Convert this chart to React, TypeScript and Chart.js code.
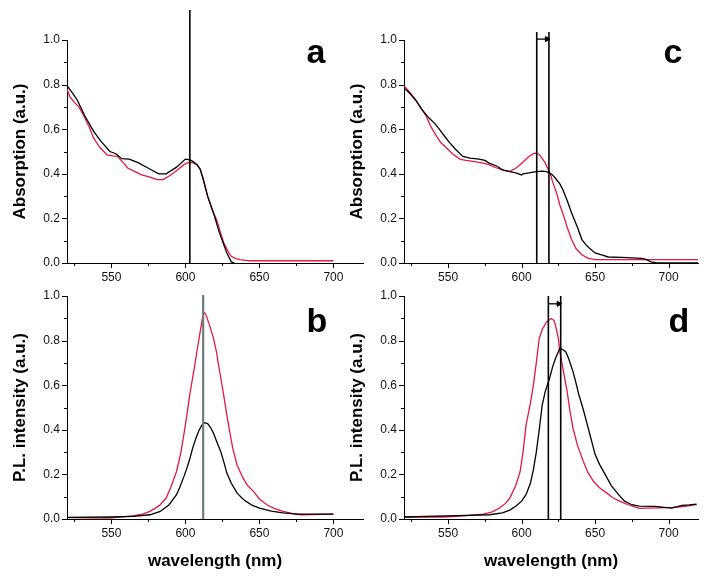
import React, { useEffect, useRef } from "react";
import { Chart, registerables } from "chart.js";

Chart.register(...registerables);

const W = 716;
const H = 578;
const RED = "#e01a42";
const BLACK = "#000000";
const GRAY = "#6c7c7c";

// tick values (minor + major)
const xTickValues = [525, 550, 575, 600, 625, 650, 675, 700];
const xMajor = [550, 600, 650, 700];
const yTickValues = [0, 0.1, 0.2, 0.3, 0.4, 0.5, 0.6, 0.7, 0.8, 0.9, 1.0];
const yMajor = [0, 0.2, 0.4, 0.6, 0.8, 1.0];

// ---- panel a: absorption ----
const aBlackWl = [520, 524, 527, 532, 538, 543, 549, 553, 557, 562, 568, 575, 582, 587, 594, 600, 603, 605, 608, 610, 612, 615, 619, 623, 628, 631, 633];
const aBlackVal = [0.795, 0.76, 0.73, 0.66, 0.59, 0.545, 0.5, 0.49, 0.468, 0.466, 0.45, 0.425, 0.4, 0.4, 0.43, 0.466, 0.462, 0.456, 0.44, 0.42, 0.375, 0.3, 0.224, 0.135, 0.045, 0.005, 0.0];
const aRedWl = [520, 522, 525, 528, 531, 535, 538, 542, 547, 551, 554, 558, 561, 566, 570, 576, 581, 585, 589, 592, 596, 599, 602, 605, 608, 610, 612, 615, 618, 621, 624, 626, 629, 631, 634, 637, 643, 700];
const aRedVal = [0.78, 0.745, 0.72, 0.7, 0.665, 0.61, 0.56, 0.52, 0.485, 0.48, 0.478, 0.45, 0.426, 0.41, 0.396, 0.385, 0.374, 0.374, 0.39, 0.404, 0.425, 0.441, 0.45, 0.45, 0.44, 0.42, 0.38, 0.3, 0.24, 0.195, 0.13, 0.09, 0.05, 0.03, 0.02, 0.015, 0.01, 0.01];
const aMarkers = [603];
const aMarkerTop = 1.135;

// ---- panel b: PL ----
const bBlackWl = [520, 549, 565, 576, 583, 589, 594, 596, 599, 601, 603, 605, 607, 609, 611, 613, 615, 617, 619, 621, 624, 626, 628, 631, 635, 638, 641, 645, 650, 658, 666, 675, 700];
const bBlackVal = [0.007, 0.009, 0.012, 0.019, 0.034, 0.064, 0.109, 0.139, 0.19, 0.228, 0.27, 0.32, 0.36, 0.395, 0.42, 0.432, 0.428, 0.41, 0.385, 0.35, 0.3, 0.255, 0.206, 0.16, 0.116, 0.095, 0.079, 0.062, 0.049, 0.035, 0.027, 0.022, 0.022];
const bRedWl = [520, 549, 565, 571, 576, 580, 583, 587, 590, 594, 597, 599, 601, 603, 606, 608, 610, 611, 612, 613, 614, 616, 619, 621, 622, 624, 626, 628, 630, 632, 635, 639, 642, 646, 650, 655, 660, 666, 672, 678, 685, 700];
const bRedVal = [0.006, 0.004, 0.015, 0.022, 0.034, 0.05, 0.064, 0.094, 0.14, 0.213, 0.3, 0.38, 0.466, 0.56, 0.675, 0.76, 0.84, 0.88, 0.92, 0.925, 0.914, 0.875, 0.81, 0.75, 0.705, 0.63, 0.55, 0.466, 0.39, 0.317, 0.24, 0.183, 0.15, 0.124, 0.09, 0.064, 0.048, 0.034, 0.025, 0.019, 0.02, 0.022];
const bMarkers = [612];
const bMarkerTop = 1.005;

// ---- panel c: absorption ----
const cBlackWl = [520, 524, 528, 532, 537, 541, 544, 548, 551, 555, 560, 565, 571, 575, 578, 583, 587, 592, 596, 600, 601, 605, 610, 614, 617, 619, 621, 623, 626, 628, 631, 634, 638, 641, 644, 646, 650, 655, 659, 668, 682, 685, 688, 692, 720];
const cBlackVal = [0.785, 0.76, 0.73, 0.69, 0.65, 0.625, 0.6, 0.565, 0.54, 0.51, 0.478, 0.47, 0.466, 0.46, 0.448, 0.435, 0.418, 0.41, 0.404, 0.395, 0.4, 0.404, 0.41, 0.412, 0.41, 0.404, 0.395, 0.38, 0.355, 0.33, 0.28, 0.224, 0.16, 0.105, 0.08, 0.067, 0.045, 0.035, 0.027, 0.025, 0.021, 0.015, 0.005, 0.0, 0.0];
const cRedWl = [520, 524, 528, 531, 535, 538, 542, 545, 549, 553, 558, 562, 567, 574, 578, 583, 588, 592, 596, 599, 602, 605, 608, 610, 612, 613, 616, 618, 620, 621, 624, 626, 628, 631, 634, 637, 641, 645, 650, 720];
const cRedVal = [0.795, 0.765, 0.73, 0.7, 0.66, 0.615, 0.57, 0.54, 0.516, 0.49, 0.466, 0.46, 0.456, 0.448, 0.44, 0.426, 0.415, 0.411, 0.425, 0.441, 0.46, 0.478, 0.49, 0.493, 0.487, 0.478, 0.45, 0.42, 0.39, 0.366, 0.31, 0.26, 0.224, 0.16, 0.105, 0.065, 0.037, 0.022, 0.015, 0.015];
const cMarkers = [610.3, 618.6];
const cMarkerTop = 1.036;
const cArrow = [610.3, 617.2];
const cArrowLevel = 1.004;

// ---- panel d: PL ----
const dBlackWl = [520, 556, 578, 587, 592, 596, 600, 603, 606, 608, 610, 612, 614, 616, 619, 621, 623, 625, 626, 628, 630, 632, 635, 637, 639, 642, 644, 646, 648, 650, 653, 657, 661, 666, 670, 675, 680, 691, 702, 706, 709, 714, 719];
const dBlackVal = [0.009, 0.015, 0.019, 0.027, 0.04, 0.057, 0.08, 0.109, 0.16, 0.22, 0.3, 0.4, 0.51, 0.57, 0.63, 0.68, 0.72, 0.75, 0.765, 0.76, 0.75, 0.72, 0.66, 0.61, 0.556, 0.49, 0.44, 0.39, 0.34, 0.29, 0.245, 0.198, 0.15, 0.109, 0.08, 0.064, 0.058, 0.057, 0.049, 0.055, 0.061, 0.063, 0.067];
const dRedWl = [520, 547, 556, 565, 574, 580, 585, 589, 592, 596, 599, 601, 603, 606, 608, 610, 612, 614, 617, 620, 622, 623, 625, 626, 628, 631, 633, 635, 638, 642, 645, 649, 653, 658, 662, 667, 672, 676, 680, 685, 694, 703, 710, 719];
const dRedVal = [0.009, 0.009, 0.012, 0.016, 0.022, 0.032, 0.049, 0.07, 0.094, 0.15, 0.213, 0.3, 0.42, 0.52, 0.6, 0.7, 0.81, 0.85, 0.884, 0.899, 0.89, 0.87, 0.81, 0.75, 0.68, 0.57, 0.48, 0.407, 0.33, 0.258, 0.21, 0.168, 0.14, 0.116, 0.095, 0.079, 0.065, 0.057, 0.048, 0.049, 0.05, 0.052, 0.056, 0.064];
const dMarkers = [618.2, 626.6];
const dMarkerTop = 1.0;
const dArrow = [618.2, 625.2];
const dArrowLevel = 0.965;

type Area = { left: number; top: number; right: number; bottom: number };
interface PanelCfg {
  letter: string;
  letterX: number;
  letterY: number;
  yTitle: string;
  xTitle: boolean;
  area: Area;
  blackWl: number[];
  blackVal: number[];
  redWl: number[];
  redVal: number[];
  markers: number[];
  markerTop: number;
  markerColor: string;
  markerWidth: number;
  arrow?: number[];
  arrowLevel?: number;
}

const PANELS: PanelCfg[] = [
  {
    letter: "a", letterX: 316, letterY: 63, yTitle: "Absorption (a.u.)", xTitle: false,
    area: { left: 67, top: 40, right: 363, bottom: 263 },
    blackWl: aBlackWl, blackVal: aBlackVal, redWl: aRedWl, redVal: aRedVal,
    markers: aMarkers, markerTop: aMarkerTop, markerColor: BLACK, markerWidth: 1.6,
  },
  {
    letter: "b", letterX: 317, letterY: 332, yTitle: "P.L. intensity (a.u.)", xTitle: true,
    area: { left: 67, top: 296, right: 363, bottom: 519 },
    blackWl: bBlackWl, blackVal: bBlackVal, redWl: bRedWl, redVal: bRedVal,
    markers: bMarkers, markerTop: bMarkerTop, markerColor: GRAY, markerWidth: 2.2,
  },
  {
    letter: "c", letterX: 673, letterY: 63, yTitle: "Absorption (a.u.)", xTitle: false,
    area: { left: 404, top: 40, right: 698, bottom: 263 },
    blackWl: cBlackWl, blackVal: cBlackVal, redWl: cRedWl, redVal: cRedVal,
    markers: cMarkers, markerTop: cMarkerTop, markerColor: BLACK, markerWidth: 1.6,
    arrow: cArrow, arrowLevel: cArrowLevel,
  },
  {
    letter: "d", letterX: 679, letterY: 332, yTitle: "P.L. intensity (a.u.)", xTitle: true,
    area: { left: 404, top: 296, right: 698, bottom: 519 },
    blackWl: dBlackWl, blackVal: dBlackVal, redWl: dRedWl, redVal: dRedVal,
    markers: dMarkers, markerTop: dMarkerTop, markerColor: BLACK, markerWidth: 1.6,
    arrow: dArrow, arrowLevel: dArrowLevel,
  },
];

const FONT = '"Liberation Sans", Arial, sans-serif';
const Y_AXIS_W = 60;
const TOP_X_AXIS_H = 27;

const decorPlugin = {
  id: "decor",
  afterDraw(chart: any, _args: any, opts: any) {
    const ctx = chart.ctx;
    const xs = chart.scales.x;
    const ys = chart.scales.y;
    ctx.save();
    ctx.strokeStyle = "#000";
    ctx.lineWidth = 1;
    xs.ticks.forEach((t: any) => {
      const px = Math.round(xs.getPixelForValue(t.value)) + 0.5;
      const len = xMajor.includes(t.value) ? 5 : 3;
      ctx.beginPath();
      ctx.moveTo(px, ys.bottom);
      ctx.lineTo(px, ys.bottom + len);
      ctx.stroke();
    });
    ys.ticks.forEach((t: any) => {
      const py = Math.round(ys.getPixelForValue(t.value)) + 0.5;
      const major = yMajor.some((m) => Math.abs(m - t.value) < 1e-6);
      const len = major ? 5 : 3;
      ctx.beginPath();
      ctx.moveTo(xs.left, py);
      ctx.lineTo(xs.left - len, py);
      ctx.stroke();
    });
    ctx.fillStyle = "#000";
    ctx.font = `bold 34px ${FONT}`;
    ctx.textAlign = "center";
    ctx.textBaseline = "alphabetic";
    ctx.fillText(opts.letter, opts.x, opts.y);
    ctx.restore();
  },
};

function buildConfig(p: PanelCfg): any {
  const toPts = (wl: number[], v: number[]) => wl.map((w, i) => ({ x: w, y: v[i] }));
  const datasets: any[] = [];
  p.markers.forEach((m) => {
    datasets.push({
      data: [{ x: m, y: 0 }, { x: m, y: p.markerTop }],
      borderColor: p.markerColor,
      borderWidth: p.markerWidth,
      pointRadius: 0,
      clip: false,
      order: 0,
    });
  });
  if (p.arrow) {
    datasets.push({
      data: [{ x: p.arrow[0], y: p.arrowLevel }, { x: p.arrow[1], y: p.arrowLevel }],
      borderColor: BLACK,
      borderWidth: 1.3,
      pointRadius: [0, 3],
      pointStyle: "triangle",
      pointRotation: 90,
      pointBackgroundColor: BLACK,
      pointBorderColor: BLACK,
      pointBorderWidth: 1,
      clip: false,
      order: 0,
    });
  }
  datasets.push({
    data: toPts(p.blackWl, p.blackVal),
    borderColor: BLACK,
    borderWidth: 1.3,
    pointRadius: 0,
    tension: 0,
    order: 1,
  });
  datasets.push({
    data: toPts(p.redWl, p.redVal),
    borderColor: RED,
    borderWidth: 1.3,
    pointRadius: 0,
    tension: 0,
    order: 2,
  });

  const a = p.area;
  const xAxisH = p.xTitle ? H - a.bottom : TOP_X_AXIS_H;
  const padBottom = H - a.bottom - xAxisH;

  return {
    type: "line",
    data: { datasets },
    plugins: [decorPlugin],
    options: {
      animation: false,
      responsive: false,
      maintainAspectRatio: false,
      events: [],
      parsing: true,
      layout: {
        padding: { left: a.left - Y_AXIS_W, top: a.top, right: W - a.right, bottom: padBottom },
      },
      plugins: {
        legend: { display: false },
        tooltip: { enabled: false },
        decor: { letter: p.letter, x: p.letterX, y: p.letterY },
      },
      scales: {
        x: {
          type: "linear",
          min: 520,
          max: 720,
          afterBuildTicks: (s: any) => {
            s.ticks = xTickValues.map((v) => ({ value: v }));
          },
          afterFit: (s: any) => {
            s.height = xAxisH;
          },
          grid: { display: true, drawOnChartArea: false, drawTicks: false },
          border: { display: true, color: "#000", width: 1 },
          ticks: {
            autoSkip: false,
            maxRotation: 0,
            padding: 7,
            color: "#111",
            font: { family: FONT, size: 12 },
            callback: (v: any) => (xMajor.includes(v) ? String(v) : ""),
          },
          title: {
            display: p.xTitle,
            text: "wavelength (nm)",
            color: "#000",
            font: { family: FONT, size: 17, weight: "bold" },
            padding: { top: 0, bottom: 6.8 },
          },
        },
        y: {
          type: "linear",
          min: 0,
          max: 1,
          afterBuildTicks: (s: any) => {
            s.ticks = yTickValues.map((v) => ({ value: v }));
          },
          afterFit: (s: any) => {
            s.width = Y_AXIS_W;
          },
          grid: { display: true, drawOnChartArea: false, drawTicks: false },
          border: { display: true, color: "#000", width: 1 },
          ticks: {
            autoSkip: false,
            padding: 7,
            color: "#111",
            font: { family: FONT, size: 12 },
            callback: (v: any) =>
              yMajor.some((m) => Math.abs(m - v) < 1e-6) ? Number(v).toFixed(1) : "",
          },
          title: {
            display: true,
            text: p.yTitle,
            color: "#000",
            font: { family: FONT, size: 17, weight: "bold" },
            padding: { top: 2.8, bottom: 0 },
          },
        },
      },
    },
  };
}

function Panel({ cfg }: { cfg: PanelCfg }) {
  const ref = useRef<HTMLCanvasElement | null>(null);
  useEffect(() => {
    if (!ref.current) return;
    const chart = new Chart(ref.current, buildConfig(cfg));
    return () => chart.destroy();
  }, [cfg]);
  return (
    <canvas
      ref={ref}
      width={W}
      height={H}
      style={{ position: "absolute", left: 0, top: 0, width: W, height: H }}
    />
  );
}

export default function App() {
  return (
    <div
      style={{
        position: "absolute",
        left: 0,
        top: 0,
        width: W,
        height: H,
        background: "#ffffff",
        overflow: "hidden",
      }}
    >
      {PANELS.map((p) => (
        <Panel key={p.letter} cfg={p} />
      ))}
    </div>
  );
}
